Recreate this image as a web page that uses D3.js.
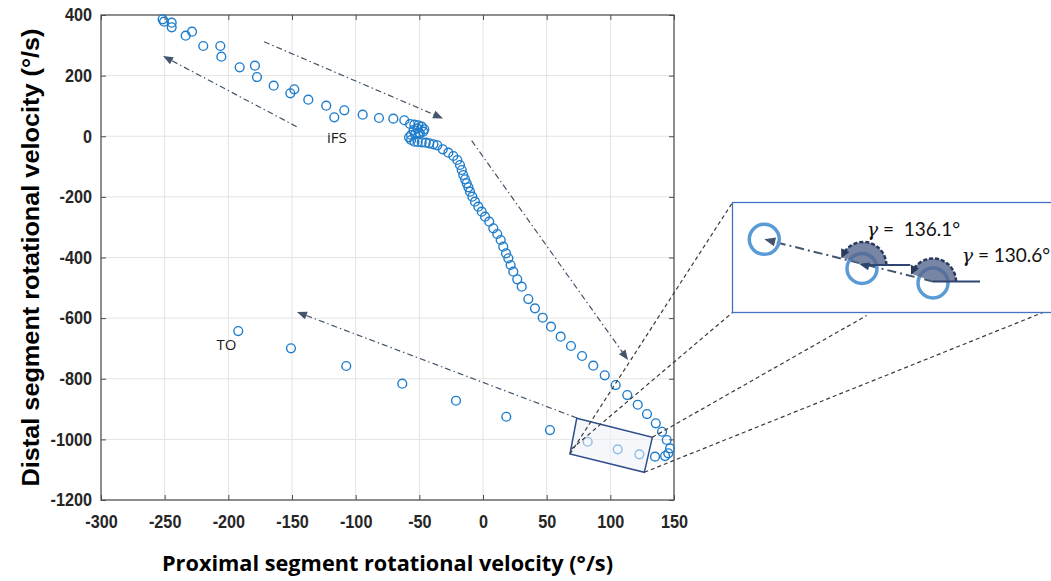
<!DOCTYPE html>
<html>
<head>
<meta charset="utf-8">
<script src="https://cdn.jsdelivr.net/npm/d3@7"></script>
<style>
  html, body { margin: 0; padding: 0; background: #ffffff; }
  svg { display: block; }
</style>
</head>
<body>
<svg id="chart" width="1051" height="581"></svg>
<script>
// Phase-plane samples: proximal vs distal segment rotational velocity (°/s)
const proximal = [
  -251.6,-250.5,-244.5,-244.5,-233.5,-228.5,-219.7,-206.3,-205.5,-191.1,-179.1,-177.5,-164.4,-151.3,-148.2,-137.2,-123.1,-116.8,-108.9,-94.5,-81.7,-70.4,-61.8,
  -57.3,-53.9,-50.8,-48.1,-46.1,-46.9,-49.5,-53.4,-56.5,-58.1,-56.5,-53.9,-51.3,-48.1,-45,-42.2,-39,-35.9,-51.5,-54.5,-50.5,
  -31.6,-27.2,-23.3,-20.2,-18.1,-16.7,-15.5,-14.1,-12.8,-11.5,-10.2,-8.4,-6.3,-3.7,-1,1.6,4.9,8.1,11.2,13.9,15.9,18.1,19.9,21.7,23.8,26.9,30.4,
  35.6,40.8,46.9,53.4,61,69.1,77.8,86.6,95.6,104.2,113.3,121.5,128.8,135.7,140.6,144.3,146.9,145.5,143,135.1,
  -192.2,-150.8,-107.4,-63.4,-21.2,18.3,52.6,82.2,105.8,122.8
];
const distal = [
  385.8,377.9,374.6,359.4,331.7,344.9,297.7,297.7,262.4,227.5,232.7,195.4,166.7,141.7,154.9,120.6,100.8,62.5,85.6,71.1,60.2,58,52.8,
  40.4,38.1,36.1,31.5,22.9,15,9.7,6.4,4.1,-3.5,-12.4,-18,-19,-20,-21.3,-23.3,-26.6,-29.9,26,20,12,
  -43,-54.3,-65.2,-78.4,-94.8,-111.3,-127.8,-142,-155.2,-168.4,-182.9,-199.4,-215.9,-232.4,-248.9,-265.4,-281.9,-303.7,-322.5,-342.3,-364.4,-386.2,-402.6,-424.7,-446.8,-471.9,-496.3,
  -537,-567.7,-598.7,-628.3,-661.3,-692,-725,-757,-788.7,-820.7,-853.7,-885.7,-916.4,-947,-974.8,-1002,-1029.6,-1046,-1055,-1057,
  -642.6,-699.6,-758,-816.4,-872.5,-925.3,-969.2,-1007.8,-1032.9,-1049.4
];

const xTicks = [-300,-250,-200,-150,-100,-50,0,50,100,150];
const yTicks = [-1200,-1000,-800,-600,-400,-200,0,200,400];
const xTitle = "Proximal segment rotational velocity (°/s)";
const yTitle = "Distal segment rotational velocity (°/s)";

// Event labels (data coordinates)
const eventNames = ["iFS", "TO"];
const eventAt = [[-114.7, -2.5], [-201.5, -685]];

// Direction arrows along the trajectory, [x0, y0, x1, y1] in data units
const arrows = [
  [-146.3, 31.5, -251.3, 264.7],
  [-172, 311.9, -31.4, 58.6],
  [-8.9, -14.7, 113.9, -738.1],
  [73.8, -929.5, -146.1, -579.8]
];
// Highlighted region around the three samples shown enlarged
const zoomBox = [[73.6, -930.5], [133, -993.2], [126.7, -1108.6], [68.3, -1048.3]];

// Inset values
const gammaLabels = ["136.1°", "130.6°"];

const svg = d3.select("#chart");
const L = 101, R = 674, T = 15, B = 500;
const x = d3.scaleLinear().domain([-300, 150]).range([L, R]);
const y = d3.scaleLinear().domain([-1200, 400]).range([B, T]);

// grid
const grid = svg.append("g").attr("stroke", "#e3e3e3").attr("stroke-width", 1);
xTicks.forEach(t => grid.append("line").attr("x1", x(t)).attr("x2", x(t)).attr("y1", T).attr("y2", B));
yTicks.forEach(t => grid.append("line").attr("x1", L).attr("x2", R).attr("y1", y(t)).attr("y2", y(t)));

// axes (inward ticks on all four sides)
const axisColor = "#4d4d4d";
const fmt = d => String(d);
function styleAxis(g) {
  g.select(".domain").remove();
  g.selectAll(".tick line").attr("stroke", axisColor);
  g.selectAll("text").attr("fill", "#262626")
    .style("font-family", "'Liberation Sans', Arial, sans-serif")
    .style("font-weight", "bold").style("font-size", "18px");
}
svg.append("g").attr("transform", `translate(0,${B})`)
  .call(d3.axisBottom(x).tickValues(xTicks).tickSize(-5).tickSizeOuter(0).tickPadding(15).tickFormat(fmt))
  .call(styleAxis);
svg.append("g").attr("transform", `translate(0,${T})`)
  .call(d3.axisTop(x).tickValues(xTicks).tickSize(-5).tickSizeOuter(0).tickFormat(""))
  .call(styleAxis);
svg.append("g").attr("transform", `translate(${L},0)`)
  .call(d3.axisLeft(y).tickValues(yTicks).tickSize(-5).tickSizeOuter(0).tickPadding(9).tickFormat(fmt))
  .call(styleAxis);
svg.append("g").attr("transform", `translate(${R},0)`)
  .call(d3.axisRight(y).tickValues(yTicks).tickSize(-5).tickSizeOuter(0).tickFormat(""))
  .call(styleAxis);
svg.selectAll(".tick text").each(function () {
  const w = this.getComputedTextLength();
  if (w > 0) d3.select(this).attr("textLength", w * 0.9).attr("lengthAdjust", "spacingAndGlyphs");
});
svg.append("rect").attr("x", L).attr("y", T).attr("width", R - L).attr("height", B - T)
  .attr("fill", "none").attr("stroke", axisColor).attr("stroke-width", 1.2);

// sample markers
svg.append("g").selectAll("circle").data(d3.range(proximal.length)).join("circle")
  .attr("cx", i => x(proximal[i])).attr("cy", i => y(distal[i])).attr("r", 4.4)
  .attr("fill", "none").attr("stroke", "#1f7dcb").attr("stroke-width", 1.4);

// arrowhead helper
const arrowCol = "#44546a";
function arrowHead(g, x0, y0, x1, y1, len, wid, col) {
  const a = Math.atan2(y1 - y0, x1 - x0);
  const bx = x1 - len * Math.cos(a), by = y1 - len * Math.sin(a);
  const nx = -Math.sin(a) * wid / 2, ny = Math.cos(a) * wid / 2;
  g.append("path").attr("d", `M${x1},${y1}L${bx + nx},${by + ny}L${bx - nx},${by - ny}Z`).attr("fill", col);
}

// trajectory direction arrows
const ag = svg.append("g");
arrows.forEach(([a0, b0, a1, b1]) => {
  const X0 = x(a0), Y0 = y(b0), X1 = x(a1), Y1 = y(b1);
  const ang = Math.atan2(Y1 - Y0, X1 - X0);
  ag.append("line").attr("x1", X0).attr("y1", Y0)
    .attr("x2", X1 - 8 * Math.cos(ang)).attr("y2", Y1 - 8 * Math.sin(ang))
    .attr("stroke", arrowCol).attr("stroke-width", 1.2).attr("stroke-dasharray", "6,3,1.5,3");
  arrowHead(ag, X0, Y0, X1, Y1, 10, 8, arrowCol);
});

// event labels
svg.append("g").selectAll("text").data(eventNames).join("text")
  .attr("x", (d, i) => x(eventAt[i][0])).attr("y", (d, i) => y(eventAt[i][1]))
  .attr("text-anchor", "middle").attr("dominant-baseline", "central")
  .style("font-family", "'Open Sans', sans-serif").style("font-size", "15px").attr("fill", "#1a1a1a")
  .text(d => d);

// highlighted region
const boxPts = zoomBox.map(p => [x(p[0]), y(p[1])]);
svg.append("path").attr("d", d3.line()(boxPts) + "Z")
  .attr("fill", "rgba(236,240,247,0.55)").attr("stroke", "#2f4d8c").attr("stroke-width", 1.5);

// inset frame and connectors
const inset = { x: 732.5, y: 202.5, w: 340, h: 110 };
const conn = svg.append("g").attr("stroke", "#3a3a3a").attr("stroke-width", 1.2).attr("stroke-dasharray", "4,3");
[[boxPts[3], [inset.x, inset.y]],
 [[boxPts[3][0] + 1.5, boxPts[3][1] - 5], [inset.x, inset.y + inset.h]],
 [boxPts[1], [866.7, inset.y + inset.h + 3]],
 [boxPts[2], [1043, inset.y + inset.h]]].forEach(([p, q]) =>
  conn.append("line").attr("x1", p[0]).attr("y1", p[1]).attr("x2", q[0]).attr("y2", q[1]));

svg.append("rect").attr("x", inset.x).attr("y", inset.y).attr("width", inset.w).attr("height", inset.h)
  .attr("fill", "#ffffff").attr("stroke", "#4472c4").attr("stroke-width", 1.3);

const ig = svg.append("g");
const c1 = [764.3, 239.3], c2 = [862, 268.5], c3 = [933, 283];
const s1 = [863.3, 265], s2 = [933, 281.5];

// dash-dot direction line with arrowhead
ig.append("line").attr("x1", s2[0]).attr("y1", s2[1]).attr("x2", c1[0] + 9).attr("y2", c1[1] + 2.3)
  .attr("stroke", arrowCol).attr("stroke-width", 2).attr("stroke-dasharray", "9,4,2,4");
arrowHead(ig, s2[0], s2[1], c1[0], c1[1], 11, 9, arrowCol);

// circles
[c1, c2, c3].forEach(c => ig.append("circle").attr("cx", c[0]).attr("cy", c[1]).attr("r", 15)
  .attr("fill", "none").attr("stroke", "#5b9bd5").attr("stroke-width", 3.5));

// angle sectors
const theta = 160 * Math.PI / 180, rs = 23;
[s1, s2].forEach(s => {
  const sector = d3.arc().innerRadius(0).outerRadius(rs)
    ({ startAngle: Math.PI / 2 - theta, endAngle: Math.PI / 2 });
  ig.append("path").attr("transform", `translate(${s[0]},${s[1]})`).attr("d", sector)
    .attr("fill", "#56668f").attr("fill-opacity", 0.8);
  const p = d3.path();
  p.arc(s[0], s[1], rs, 0, -theta + 0.25, true);
  ig.append("path").attr("d", p.toString()).attr("fill", "none")
    .attr("stroke", "#2a3a5c").attr("stroke-width", 2.5).attr("stroke-dasharray", "4,2");
  const ex = s[0] + rs * Math.cos(theta - 0.25), ey = s[1] - rs * Math.sin(theta - 0.25);
  const tx = s[0] + rs * Math.cos(theta + 0.05), ty = s[1] - rs * Math.sin(theta + 0.05);
  arrowHead(ig, ex, ey, tx, ty, 9, 9, "#2a3a5c");
  ig.append("line").attr("x1", s[0]).attr("y1", s[1]).attr("x2", s[0] + 47).attr("y2", s[1])
    .attr("stroke", "#2f4470").attr("stroke-width", 2);
});
arrowHead(ig, s2[0], s2[1], s1[0] - 4, s1[1] - 1, 10, 8, "#2f4470");

// gamma labels
[[866.7, 236, gammaLabels[0], "\u00a0=\u00a0\u00a0"], [961.7, 261.5, gammaLabels[1], "\u00a0=\u00a0"]].forEach(([lx, ly, v, eq]) => {
  const t = ig.append("text").attr("x", lx).attr("y", ly).attr("fill", "#111");
  t.append("tspan").style("font-family", "'DejaVu Serif', serif").style("font-style", "italic")
    .style("font-size", "19px").text("γ");
  t.append("tspan").style("font-family", "Lato, sans-serif").style("font-size", "19px").text(eq + v);
});

// axis titles
svg.append("text").attr("x", (L + R) / 2).attr("y", 571).attr("text-anchor", "middle")
  .style("font-family", "'Open Sans', sans-serif").style("font-weight", "bold").style("font-size", "21px")
  .attr("textLength", 451).attr("lengthAdjust", "spacingAndGlyphs").attr("fill", "#000").text(xTitle);
svg.append("text").attr("transform", `translate(39,${(T + B) / 2}) rotate(-90)`).attr("text-anchor", "middle")
  .style("font-family", "'Liberation Sans', Arial, sans-serif").style("font-weight", "bold").style("font-size", "24px")
  .attr("textLength", 458).attr("lengthAdjust", "spacingAndGlyphs").attr("fill", "#000").text(yTitle);
</script>
</body>
</html>
